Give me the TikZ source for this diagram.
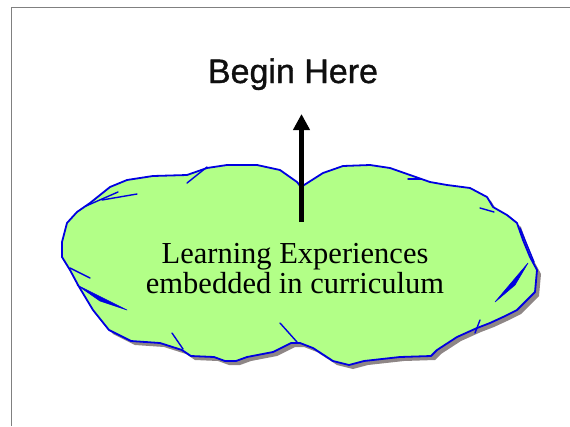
\documentclass[tikz,border=0pt]{standalone}
\usepackage{fontspec}
\newfontfamily\serifface{Liberation Serif}
\newfontfamily\sansface[FakeBold=1]{Liberation Sans}
\usetikzlibrary{arrows.meta}
\definecolor{cloudfill}{RGB}{178,255,135}
\definecolor{cloudline}{RGB}{0,0,225}
\definecolor{cloudshadow}{RGB}{142,134,134}
\definecolor{framegray}{RGB}{128,128,128}
\definecolor{textblack}{RGB}{15,15,15}
\tikzset{
  outline/.style={draw=cloudline, line width=1.8pt, line join=round, line cap=round},
  hair/.style={draw=cloudline, line width=1.4pt, line cap=round},
  wedge/.style={fill=cloudline, draw=cloudline, line width=0.6pt, line join=round},
  frameline/.style={draw=framegray, line width=1pt},
  cloudtext/.style={font=\serifface\fontsize{30.5}{31}\selectfont, anchor=base, inner sep=0pt},
  begintext/.style={font=\sansface\fontsize{34}{36}\selectfont, text=textblack, anchor=base, inner sep=0pt},
  bigarrow/.style={line width=5pt, -{Triangle[width=16pt,length=16pt]}}
}
\begin{document}
\begin{tikzpicture}[x=1pt,y=-1pt]
\useasboundingbox (0,0) rectangle (570,426);
% frame
\draw[frameline] (11.5,426) -- (11.5,7) -- (570,7);
% cloud path
\def\cloudpath{(62,242) -- (67,223) -- (77,212) -- (90,203) -- (100,195) -- (110,187) -- (127,180) -- (153,176) -- (187,175) -- (207,168) -- (227,165) -- (257,165) -- (280,170) -- (297,182) -- (301,187) -- (323,173) -- (343,166) -- (370,165) -- (390,168) -- (410,175) -- (430,182) -- (447,185) -- (470,188) -- (487,197) -- (493,207) -- (507,215) -- (517,223) -- (523,240) -- (530,257) -- (537,270) -- (535,292) -- (527,300) -- (517,310) -- (503,317) -- (490,323) -- (477,328) -- (457,337) -- (437,350) -- (431,356) -- (400,357) -- (364,361) -- (349,365) -- (333,361) -- (313,348) -- (300,343) -- (291,343) -- (273,352) -- (247,357) -- (236,361) -- (225,361) -- (214,357) -- (191,356) -- (182,350) -- (160,343) -- (131,341) -- (109,330) -- (93,310) -- (78,285) -- (70,270) -- (62,257) -- cycle}
% shadow
\fill[cloudshadow, shift={(4,4)}] \cloudpath;
% cloud
\path[fill=cloudfill, outline] \cloudpath;
% hairs
\draw[hair] (102,200) -- (137,194);
\draw[hair] (187,183) -- (207,167);
\draw[hair] (70,268) -- (90,278);
\draw[hair] (172,333) -- (183,349);
\draw[hair] (280,323) -- (297,342);
\draw[hair] (408,179) -- (421,179);
\draw[hair] (480,208) -- (494,212);
\draw[hair] (480,320) -- (475,333);
\draw[hair] (118,192) -- (86,206);
\draw[hair] (520,228) -- (534,262);
% wedges
\path[wedge] (77,285) -- (127,310) -- (100,301) -- cycle;
\path[wedge] (528,263) -- (495,302) -- (515,285) -- cycle;
% texts
\node[cloudtext] (line1) at (295,263) {Learning Experiences};
\node[cloudtext] (line2) at (295,293) {embedded in curriculum};
\node[begintext] (begin) at (293,83) {Begin Here};
% arrow
\coordinate (arrowstart) at (301.5,222);
\coordinate (arrowtip) at (301.5,114);
\draw[bigarrow] (arrowstart) -- (arrowtip);
\end{tikzpicture}
\end{document}
